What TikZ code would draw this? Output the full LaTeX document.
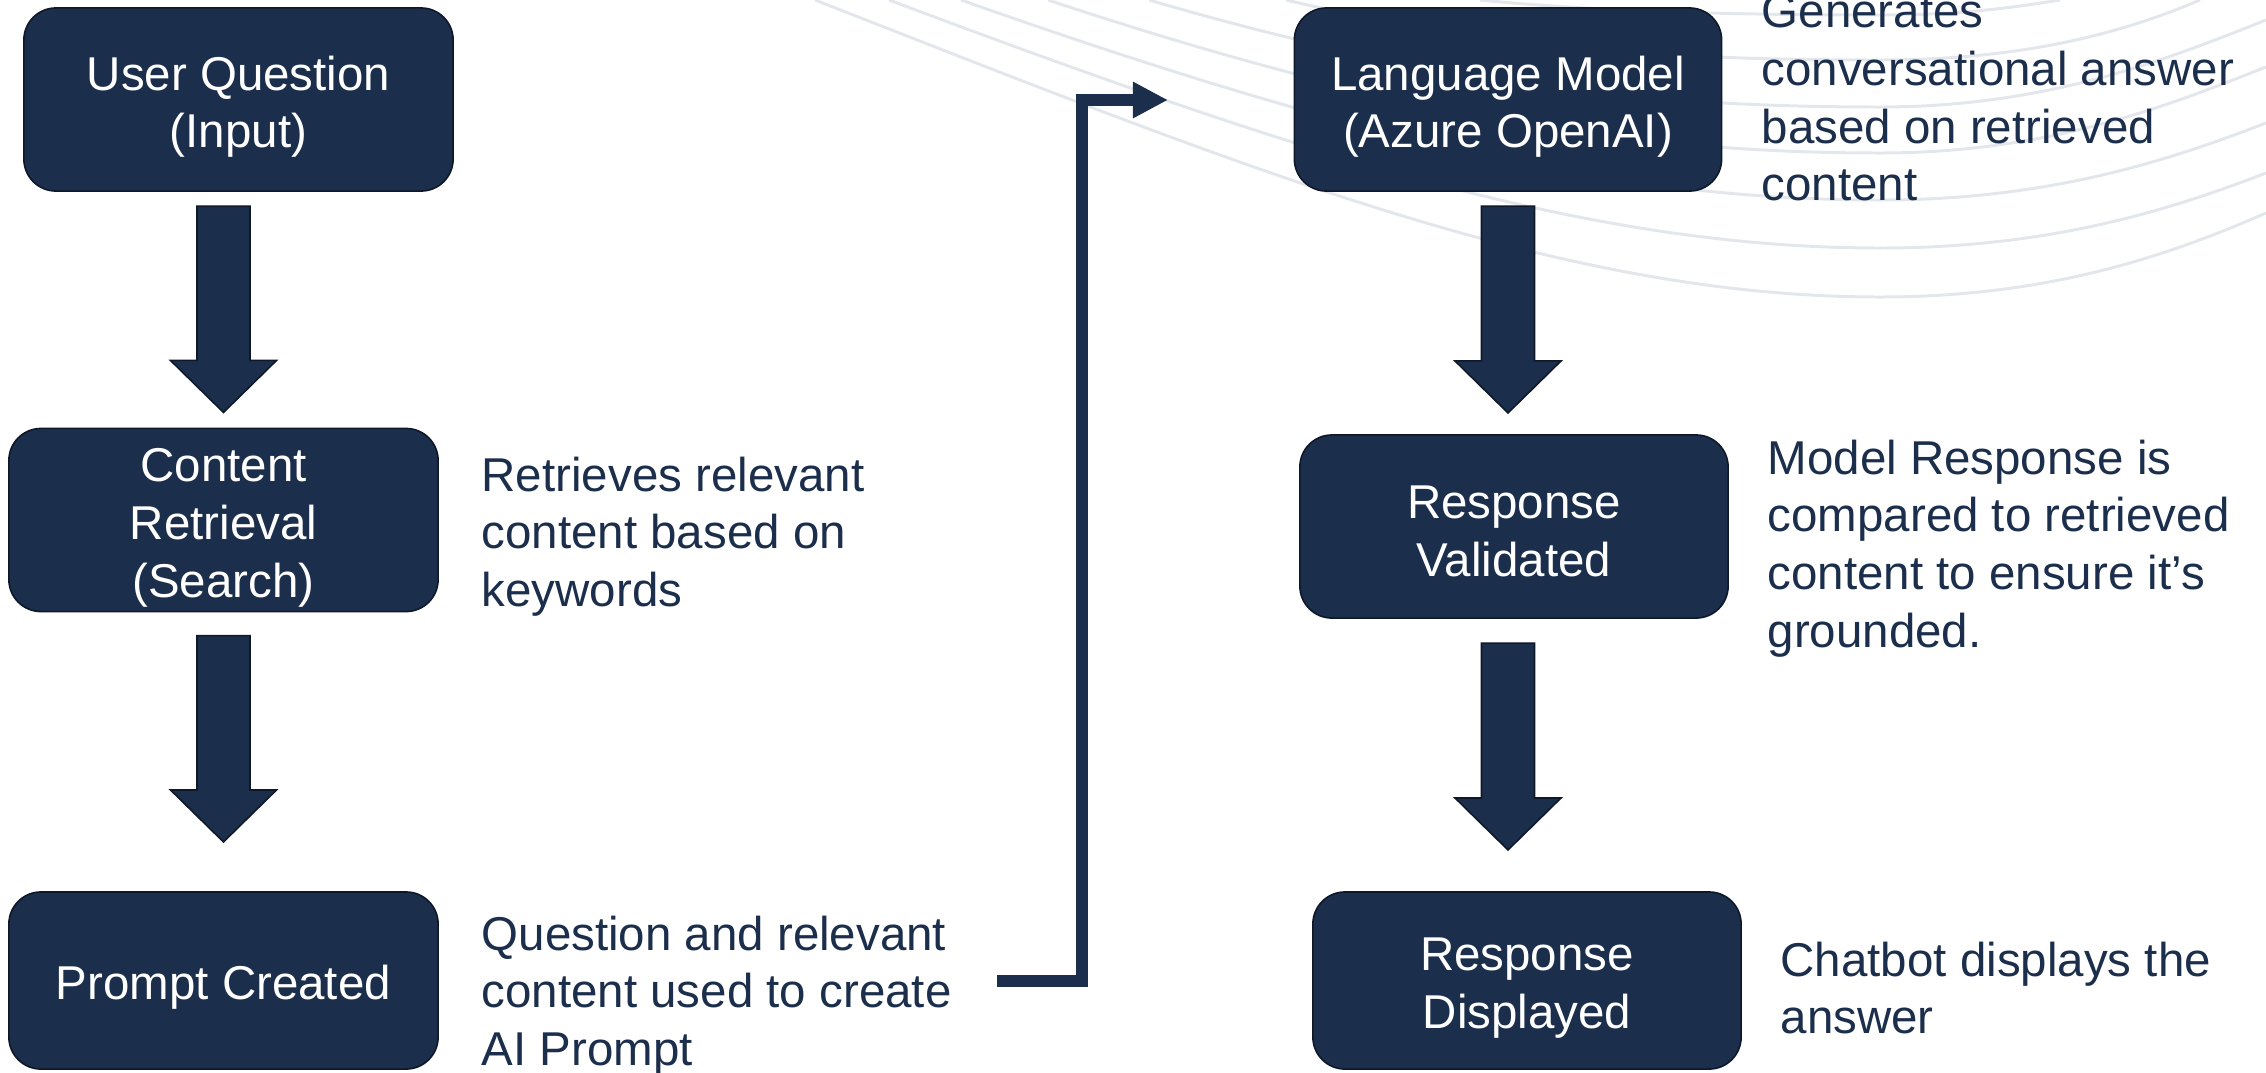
\documentclass[tikz,border=0pt]{standalone}
\usepackage{fontspec}
\setmainfont{Liberation Sans}
\usetikzlibrary{arrows.meta,calc}
\definecolor{navy}{HTML}{1B2E4B}
\definecolor{edgecol}{HTML}{0E1828}
\definecolor{swoosh}{HTML}{E3E7EC}
\newcommand{\drawblockarrow}[2]{\filldraw[barrow] ($(#1)+(-26.5,0)$) -- ($(#1)+(26.5,0)$) -- ($(#2)+(26.5,-52)$) -- ($(#2)+(53,-52)$) -- (#2) -- ($(#2)+(-53,-52)$) -- ($(#2)+(-26.5,-52)$) -- cycle;}
\begin{document}
\begin{tikzpicture}[x=0.01cm,y=-0.01cm,
  box/.style={draw=edgecol, line width=0.45pt, fill=navy, rounded corners=0.32cm,
    minimum width=4.29cm, minimum height=1.83cm, inner sep=0pt, outer sep=0pt},
  boxtext/.style={anchor=north, inner sep=0pt, text=white, align=center,
    font=\fontsize{13.5}{16.4}\selectfont},
  note/.style={anchor=north west, inner sep=0pt, text=navy, align=left,
    font=\fontsize{13.5}{16.4}\selectfont},
  barrow/.style={fill=navy, draw=edgecol, line width=0.45pt, line join=miter},
  conn/.style={draw=navy, line width=3.55pt, line join=miter,
    -{Triangle[length=0.35cm,width=0.34cm]}},
  bg/.style={draw=swoosh, line width=0.85pt}]
\useasboundingbox (0,0) rectangle (2266,1072);
% background swoosh
\begin{scope}
\clip (0,0) rectangle (2266,1072);
\draw[bg] (815,0) .. controls (1250,170) and (1560,297) .. (1880,297) .. controls (2050,297) and (2170,255) .. (2266,213);
\draw[bg] (889,0) .. controls (1290,150) and (1580,248) .. (1880,248) .. controls (2050,248) and (2170,210) .. (2266,173);
\draw[bg] (961,0) .. controls (1330,130) and (1600,200) .. (1880,200) .. controls (2050,200) and (2170,160) .. (2266,123);
\draw[bg] (1048,0) .. controls (1380,110) and (1620,153) .. (1880,153) .. controls (2050,153) and (2170,105) .. (2266,67);
\draw[bg] (1149,0) .. controls (1440,85) and (1650,107) .. (1880,107) .. controls (2050,107) and (2170,58) .. (2266,20);
\draw[bg] (1286,0) .. controls (1500,50) and (1680,60) .. (1880,60) .. controls (2030,60) and (2130,30) .. (2200,0);
\draw[bg] (1480,0) .. controls (1600,12) and (1750,15) .. (1880,15) .. controls (1960,15) and (2010,8) .. (2060,0);
\end{scope}
% boxes
\node[box] (b1) at (238.5,99.5) {};
\node[box] (b2) at (223.5,520) {};
\node[box, minimum height=1.77cm] (b3) at (223.5,980.5) {};
\node[box, minimum width=4.27cm] (b4) at (1508,99.5) {};
\node[box, minimum width=4.28cm] (b5) at (1514,526.5) {};
\node[box, minimum width=4.28cm, minimum height=1.77cm] (b6) at (1527,980.5) {};
% box labels
\node[boxtext] (b1t) at (238.5,55) {User Question\\(Input)};
\node[boxtext] (b2t) at (223.5,448) {Content\\Retrieval\\(Search)};
\node[boxtext] (b3t) at (223.5,964) {Prompt Created};
\node[boxtext] (b4t) at (1508,55) {Language Model\\(Azure OpenAI)};
\node[boxtext] (b5t) at (1514,485) {Response\\Validated};
\node[boxtext] (b6t) at (1527,937) {Response\\Displayed};
% notes
\node[note] (n2) at (481,456) {Retrieves relevant\\content based on\\keywords};
\node[note] (n3) at (481,915) {Question and relevant\\content used to create\\AI Prompt};
\node[note] (n4) at (1761,-6) {Generates\\conversational answer\\based on retrieved\\content};
\node[note] (n5) at (1767,439) {Model Response is\\compared to retrieved\\content to ensure it’s\\grounded.};
\node[note] (n6) at (1780,941) {Chatbot displays the\\answer};
% block arrows
\path (b2.center |- b1.south) ++(0,15) coordinate (a1s);
\path (b2.north) ++(0,-16) coordinate (a1e);
\path (b2.south) ++(0,24) coordinate (a2s);
\path (b3.north) ++(0,-50) coordinate (a2e);
\path (b4.south) ++(0,15) coordinate (a3s);
\path (b4.center |- b5.north) ++(0,-22) coordinate (a3e);
\path (b4.center |- b5.south) ++(0,25) coordinate (a4s);
\path (b4.center |- b6.north) ++(0,-42) coordinate (a4e);
\drawblockarrow{a1s}{a1e}
\drawblockarrow{a2s}{a2e}
\drawblockarrow{a3s}{a3e}
\drawblockarrow{a4s}{a4e}
% elbow connector
\coordinate (cs) at (997,981);
\coordinate (cb) at (1082,981);
\coordinate (ce) at (1168,100);
\draw[conn] (cs) -- (cb) |- (ce);
\end{tikzpicture}
\end{document}
